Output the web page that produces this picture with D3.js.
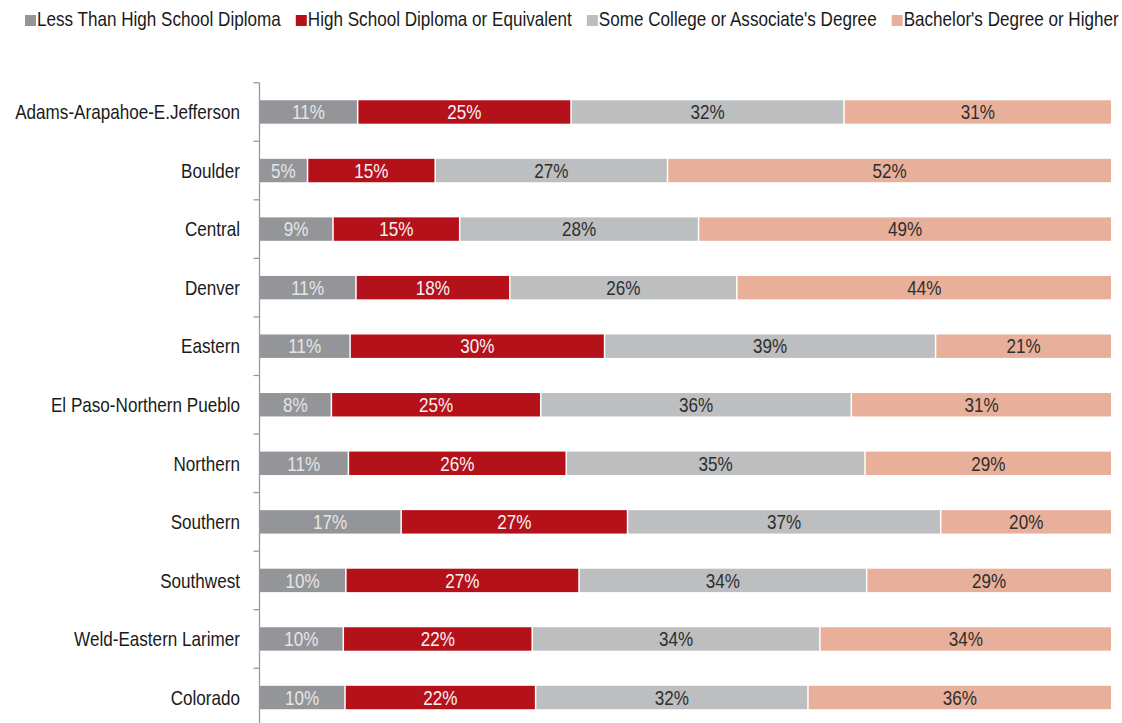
<!DOCTYPE html>
<html>
<head>
<meta charset="utf-8">
<script src="https://cdn.jsdelivr.net/npm/d3@7"></script>
<style>
  html, body { margin: 0; padding: 0; background: #fff; }
  svg text { font-family: "Liberation Sans", Arial, sans-serif; }
</style>
</head>
<body>
<svg id="chart" width="1122" height="723"></svg>
<script>
const regions = ["Adams-Arapahoe-E.Jefferson", "Boulder", "Central", "Denver", "Eastern",
  "El Paso-Northern Pueblo", "Northern", "Southern", "Southwest", "Weld-Eastern Larimer", "Colorado"];
const seriesNames = ["Less Than High School Diploma", "High School Diploma or Equivalent",
  "Some College or Associate's Degree", "Bachelor's Degree or Higher"];
// shares (%)
const lessThanHS = [11.4, 5.5, 8.5, 11.2, 10.5, 8.3, 10.3, 16.5, 10.0, 9.7, 9.9];
const highSchool = [25.1, 15.0, 14.9, 18.1, 29.9, 24.6, 25.6, 26.6, 27.4, 22.2, 22.4];
const someCollege = [32.1, 27.3, 28.1, 26.7, 38.9, 36.5, 35.1, 36.8, 33.8, 33.8, 32.0];
const bachelors = [31.5, 52.2, 48.6, 44.1, 20.7, 30.6, 29.0, 20.1, 28.8, 34.3, 35.7];
// printed labels (%)
const lessThanHSLabels = [11, 5, 9, 11, 11, 8, 11, 17, 10, 10, 10];
const highSchoolLabels = [25, 15, 15, 18, 30, 25, 26, 27, 27, 22, 22];
const someCollegeLabels = [32, 27, 28, 26, 39, 36, 35, 37, 34, 34, 32];
const bachelorsLabels = [31, 52, 49, 44, 21, 31, 29, 20, 29, 34, 36];

const colors = ["#939598", "#b5111b", "#bcbec0", "#e8b09a"];
const labelColors = ["#e6e6e6", "#f4f4f4", "#2e2e2e", "#2e2e2e"];
const FS = 20, SX = 0.855;

const keys = ["s0", "s1", "s2", "s3"];
const labelArrays = [lessThanHSLabels, highSchoolLabels, someCollegeLabels, bachelorsLabels];
const rows = regions.map((r, i) => ({
  region: r, idx: i, s0: lessThanHS[i], s1: highSchool[i], s2: someCollege[i], s3: bachelors[i]
}));
const stacked = d3.stack().keys(keys).offset(d3.stackOffsetExpand)(rows);

const svg = d3.select("#chart");
const x = d3.scaleLinear().domain([0, 1]).range([260, 1111]);
const y = d3.scaleBand().domain(regions).range([82.7, 726.8]).paddingInner(0.6).paddingOuter(0.3);

function addText(parent, tx, ty, str, anchor, fill, dy) {
  return parent.append("text")
    .attr("transform", `translate(${tx},${ty}) scale(${SX},1)`)
    .attr("dy", dy || 0)
    .attr("text-anchor", anchor).attr("font-size", FS).attr("fill", fill).text(str);
}

// Axis line and boundary ticks
const axisX = 259.5;
svg.append("line").attr("x1", axisX).attr("x2", axisX).attr("y1", 82.7).attr("y2", 726.8)
  .attr("stroke", "#9a9a9a").attr("stroke-width", 1.3);
const step = y.step();
const bounds = regions.map(r => y(r) - (step - y.bandwidth()) / 2);
svg.selectAll("line.tick").data(bounds).enter().append("line").attr("class", "tick")
  .attr("x1", axisX - 6).attr("x2", axisX).attr("y1", d => d).attr("y2", d => d)
  .attr("stroke", "#9a9a9a").attr("stroke-width", 1.3);

// Category labels
const catG = svg.append("g");
regions.forEach(r => addText(catG, 240, y(r) + y.bandwidth() / 2, r, "end", "#1a1a1a", "0.36em"));

// Bars
stacked.forEach((s, si) => {
  const g = svg.append("g").attr("class", "series");
  const gap = si > 0 ? 1.5 : 0;
  g.selectAll("rect").data(s).enter().append("rect")
    .attr("x", d => x(d[0]) + gap)
    .attr("width", d => x(d[1]) - x(d[0]) - gap)
    .attr("y", d => y(d.data.region))
    .attr("height", y.bandwidth())
    .attr("fill", colors[si]);
  s.forEach(d => addText(g, (x(d[0]) + gap + x(d[1])) / 2, y(d.data.region) + y.bandwidth() / 2,
    labelArrays[si][d.data.idx] + "%", "middle", labelColors[si], "0.36em"));
});

// Legend
const legend = svg.append("g");
let lx = 25;
seriesNames.forEach((name, i) => {
  legend.append("rect").attr("x", lx).attr("y", 15).attr("width", 11).attr("height", 11).attr("fill", colors[i]);
  const t = addText(legend, lx + 12, 26, name, "start", "#1a1a1a");
  lx += 12 + t.node().getComputedTextLength() * SX + 15;
});
</script>
</body>
</html>
